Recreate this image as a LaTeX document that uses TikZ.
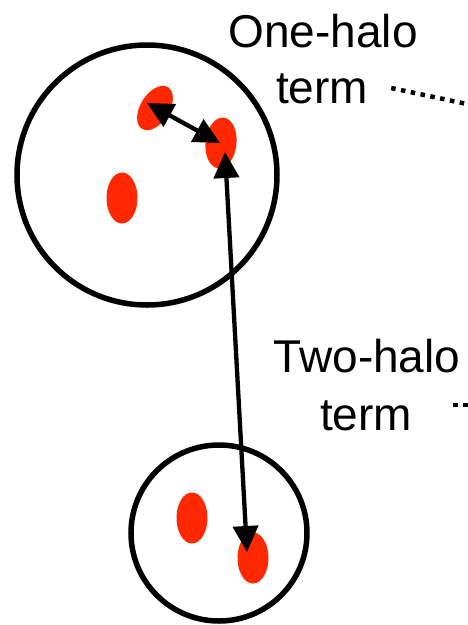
\documentclass[tikz,border=0pt]{standalone}
\usepackage{fontspec}
\setmainfont{Liberation Sans}
\usepackage{tikz}
\usetikzlibrary{arrows.meta,calc,shapes.geometric}
\definecolor{galred}{RGB}{255,40,0}
\tikzset{
  halo/.style={draw, circle, line width=5.5pt, inner sep=0pt},
  galaxy/.style={ellipse, fill=galred, inner sep=0pt, minimum width=31pt, minimum height=51pt},
  termtext/.style={anchor=base, inner sep=0pt, font=\fontsize{46}{56}\selectfont},
  pairarrow/.style={{Triangle[length=26pt,width=25pt]}-{Triangle[length=26pt,width=25pt]}, line width=4.3pt},
  pointer/.style={line width=4.5pt, dash pattern=on 4.5pt off 5.5pt}
}

\begin{document}
\begin{tikzpicture}[x=1pt, y=-1pt]
  \useasboundingbox (0,0) rectangle (468,625);
  \clip (0,0) rectangle (468,625);

  % halos
  \node[halo, minimum size=260pt] (bighalo) at (147,175) {};
  \node[halo, minimum size=176pt] (smallhalo) at (219,533) {};

  % galaxies
  \node[galaxy, rotate=-32, minimum width=29pt, minimum height=49pt] (galA) at (155,108) {};
  \node[galaxy, rotate=-6] (galB) at (221,143) {};
  \node[galaxy] (galC) at (122,198) {};
  \node[galaxy] (galD) at (192,518) {};
  \node[galaxy] (galE) at (253,558) {};

  % pair separations
  \draw[pairarrow] ([shift={(-8,-5)}]galA.center) -- ([shift={(-1,0)}]galB.center);
  \draw[pairarrow] ([shift={(4,9)}]galB.center) -- ([shift={(-6,-6)}]galE.center);

  % labels
  \node[termtext] (onehalo) at (323,47) {One-halo};
  \node[termtext] (oneterm) at (322,103) {term};
  \node[termtext] (twohalo) at (367,372) {Two-halo};
  \node[termtext] (twoterm) at (366,430) {term};

  \coordinate (oneend) at (500,111);
  \coordinate (twoend) at (500,405);
  \draw[pointer] ($(oneterm.base east)+(23,-15)$) -- (oneend);
  \draw[pointer] ($(twoterm.base east)+(41,-25)$) -- (twoend);
\end{tikzpicture}
\end{document}
